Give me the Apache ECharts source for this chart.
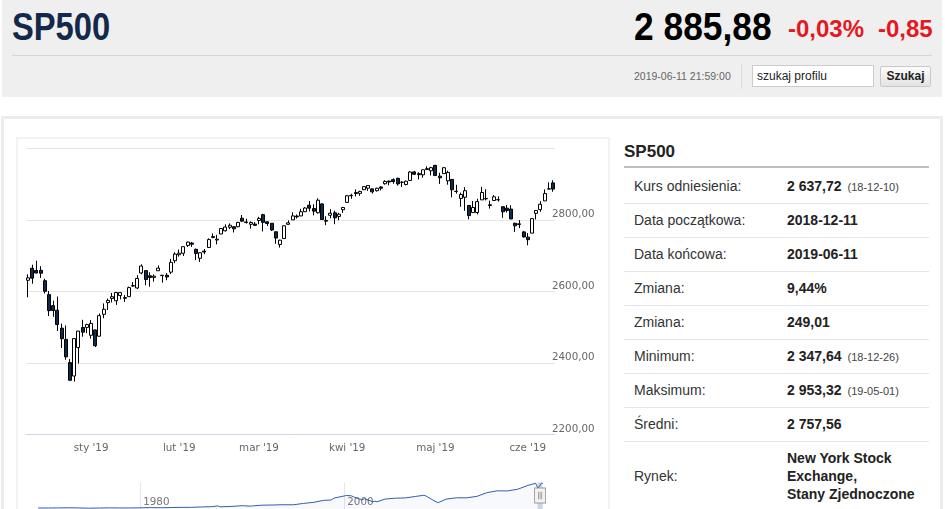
<!DOCTYPE html>
<html><head><meta charset="utf-8">
<script src="https://cdn.jsdelivr.net/npm/echarts@6/dist/echarts.min.js"></script>
<style>
html,body{margin:0;padding:0;width:945px;height:509px;overflow:hidden;background:#fff;font-family:"Liberation Sans",Arial,sans-serif;}
.a{position:absolute;white-space:nowrap;}
#hdr{left:2px;top:0;width:940px;height:97px;background:#efefef;}
.big{font-weight:bold;font-size:38px;line-height:38px;transform-origin:0 0;}
.red{font-weight:bold;font-size:24px;line-height:24px;color:#e3191f;}
.lbl{left:634px;font-size:14px;color:#333;line-height:16px;}
.val{left:787px;font-size:14px;color:#222;font-weight:bold;line-height:16px;}
.val small{font-weight:normal;font-size:11px;color:#444;margin-left:6px;}
.sep{left:624px;width:305px;height:1px;background:#e6e6e6;}
</style></head><body>
<div class="a" id="hdr"></div>
<div class="a big" style="left:12px;top:8px;color:#13294b;transform:scaleX(0.86)">SP500</div>
<div class="a big" style="left:634px;top:8px;color:#000;transform:scaleX(0.93)">2 885,88</div>
<div class="a red" style="left:788px;top:17px">-0,03%</div>
<div class="a red" style="left:878px;top:17px">-0,85</div>
<div class="a" style="left:12px;top:55px;width:920px;height:1px;background:#d6d6d6"></div>
<div class="a" style="left:634px;top:70px;font-size:10.5px;line-height:12px;color:#666">2019-06-11 21:59:00</div>
<div class="a" style="left:741px;top:64px;width:1px;height:25px;background:#dcdcdc"></div>
<div class="a" style="left:752px;top:65px;width:122px;height:22px;box-sizing:border-box;border:1px solid #ccc;background:#fff;font-size:12px;line-height:20px;padding-left:4px;color:#222">szukaj profilu</div>
<div class="a" style="left:880px;top:66px;width:51px;height:21px;box-sizing:border-box;border:1px solid #c8c8c8;border-radius:2px;background:linear-gradient(#fbfbfb,#e3e3e3);font-size:12px;font-weight:bold;line-height:19px;text-align:center;color:#222">Szukaj</div>

<div class="a" style="left:1px;top:116px;width:942px;height:420px;box-sizing:border-box;border:3px solid #ececec"></div>
<div class="a" style="left:16px;top:137px;width:594px;height:420px;box-sizing:border-box;border:2px solid #f2f2f2"></div>
<div class="a" id="chart" style="left:16px;top:138px;width:594px;height:380px"></div>

<div class="a" style="left:624px;top:143px;font-size:17px;line-height:17px;font-weight:bold;color:#222">SP500</div>
<div class="a" style="left:624px;top:166px;width:305px;height:2px;background:#bdbdbd"></div>

<div class="a lbl" style="top:178px">Kurs odniesienia:</div>
<div class="a val" style="top:178px">2 637,72<small>(18-12-10)</small></div>
<div class="a sep" style="top:203px"></div>
<div class="a lbl" style="top:212px">Data początkowa:</div>
<div class="a val" style="top:212px">2018-12-11</div>
<div class="a sep" style="top:237px"></div>
<div class="a lbl" style="top:246px">Data końcowa:</div>
<div class="a val" style="top:246px">2019-06-11</div>
<div class="a sep" style="top:271px"></div>
<div class="a lbl" style="top:280px">Zmiana:</div>
<div class="a val" style="top:280px">9,44%</div>
<div class="a sep" style="top:305px"></div>
<div class="a lbl" style="top:314px">Zmiana:</div>
<div class="a val" style="top:314px">249,01</div>
<div class="a sep" style="top:339px"></div>
<div class="a lbl" style="top:348px">Minimum:</div>
<div class="a val" style="top:348px">2 347,64<small>(18-12-26)</small></div>
<div class="a sep" style="top:373px"></div>
<div class="a lbl" style="top:382px">Maksimum:</div>
<div class="a val" style="top:382px">2 953,32<small>(19-05-01)</small></div>
<div class="a sep" style="top:407px"></div>
<div class="a lbl" style="top:416px">Średni:</div>
<div class="a val" style="top:416px">2 757,56</div>
<div class="a sep" style="top:441px"></div>
<div class="a lbl" style="top:468px">Rynek:</div>
<div class="a val" style="top:449px;line-height:18px;white-space:normal;width:140px">New York Stock<br>Exchange,<br>Stany Zjednoczone</div>

<script>
const dates = [
'2018-12-10','2018-12-11','2018-12-12','2018-12-13','2018-12-14','2018-12-17','2018-12-18','2018-12-19','2018-12-20','2018-12-21','2018-12-24','2018-12-26','2018-12-27','2018-12-28','2018-12-31',
'2019-01-02','2019-01-03','2019-01-04','2019-01-07','2019-01-08','2019-01-09','2019-01-10','2019-01-11','2019-01-14','2019-01-15','2019-01-16','2019-01-17','2019-01-18','2019-01-22','2019-01-23','2019-01-24','2019-01-25','2019-01-28','2019-01-29','2019-01-30','2019-01-31',
'2019-02-01','2019-02-04','2019-02-05','2019-02-06','2019-02-07','2019-02-08','2019-02-11','2019-02-12','2019-02-13','2019-02-14','2019-02-15','2019-02-19','2019-02-20','2019-02-21','2019-02-22','2019-02-25','2019-02-26','2019-02-27','2019-02-28',
'2019-03-01','2019-03-04','2019-03-05','2019-03-06','2019-03-07','2019-03-08','2019-03-11','2019-03-12','2019-03-13','2019-03-14','2019-03-15','2019-03-18','2019-03-19','2019-03-20','2019-03-21','2019-03-22','2019-03-25','2019-03-26','2019-03-27','2019-03-28','2019-03-29',
'2019-04-01','2019-04-02','2019-04-03','2019-04-04','2019-04-05','2019-04-08','2019-04-09','2019-04-10','2019-04-11','2019-04-12','2019-04-15','2019-04-16','2019-04-17','2019-04-18','2019-04-22','2019-04-23','2019-04-24','2019-04-25','2019-04-26','2019-04-29','2019-04-30',
'2019-05-01','2019-05-02','2019-05-03','2019-05-06','2019-05-07','2019-05-08','2019-05-09','2019-05-10','2019-05-13','2019-05-14','2019-05-15','2019-05-16','2019-05-17','2019-05-20','2019-05-21','2019-05-22','2019-05-23','2019-05-24','2019-05-28','2019-05-29','2019-05-30','2019-05-31',
'2019-06-03','2019-06-04','2019-06-05','2019-06-06','2019-06-07','2019-06-10','2019-06-11'];
const opens = [
2630.86,2664.44,2658.23,2658.70,2629.68,2590.75,2559.90,2547.05,2496.77,2465.38,2400.56,2363.12,2442.50,2498.77,2498.94,
2476.96,2491.92,2474.33,2535.61,2568.11,2580.00,2573.51,2588.11,2580.31,2585.10,2614.75,2609.28,2651.27,2657.88,2643.48,2638.84,2657.44,2644.97,2644.89,2653.62,2685.49,
2702.32,2706.49,2728.34,2735.05,2717.53,2692.36,2712.40,2722.61,2750.30,2743.50,2760.24,2769.28,2779.05,2780.67,2780.67,2804.35,2792.36,2787.50,2788.11,
2798.22,2814.37,2794.41,2790.27,2766.53,2730.79,2747.61,2787.34,2799.78,2810.38,2810.79,2822.61,2840.76,2831.34,2819.72,2844.52,2796.01,2812.66,2819.72,2809.40,2828.27,
2848.63,2868.24,2876.09,2873.99,2884.16,2888.46,2886.58,2881.37,2891.92,2900.86,2908.32,2912.26,2916.04,2904.81,2898.78,2909.99,2934.00,2928.99,2925.81,2940.58,2937.14,
2952.33,2922.16,2929.21,2908.89,2913.03,2879.61,2859.84,2863.10,2840.19,2820.12,2820.38,2855.80,2858.60,2841.94,2854.02,2856.06,2836.70,2832.41,2830.03,2790.25,2786.94,2766.15,
2751.53,2762.64,2818.09,2828.51,2852.87,2885.83,2903.27];
const highs = [
2647.51,2674.35,2685.44,2670.19,2635.07,2601.13,2573.99,2585.29,2509.63,2504.41,2410.34,2467.76,2489.10,2520.27,2509.24,
2519.49,2493.14,2538.07,2566.16,2579.82,2595.32,2597.82,2596.27,2589.32,2613.08,2625.76,2645.06,2675.47,2657.88,2653.19,2647.20,2672.38,2644.97,2650.93,2690.44,2708.95,
2716.66,2724.99,2738.98,2738.08,2719.32,2708.07,2718.05,2748.19,2761.85,2757.90,2775.66,2787.33,2789.88,2781.58,2794.20,2813.49,2803.12,2795.76,2793.73,
2808.02,2816.88,2796.44,2790.27,2766.53,2744.13,2784.00,2798.32,2821.24,2815.00,2830.73,2835.41,2852.42,2843.54,2860.31,2846.16,2809.79,2829.87,2825.56,2819.71,2836.03,
2869.40,2872.90,2885.25,2881.28,2893.24,2895.95,2886.88,2889.71,2893.42,2910.54,2909.60,2916.06,2918.00,2908.40,2909.51,2936.31,2936.83,2933.10,2939.88,2949.52,2948.22,
2953.32,2931.68,2947.85,2937.32,2913.03,2897.96,2875.97,2891.31,2840.19,2852.54,2858.68,2892.15,2885.48,2853.86,2868.88,2865.47,2836.70,2841.36,2840.51,2792.03,2799.00,2768.98,
2763.07,2804.49,2827.28,2852.10,2884.97,2904.77,2910.61];
const lows = [
2583.23,2621.30,2650.26,2637.27,2593.84,2530.54,2528.71,2488.96,2441.18,2408.55,2351.10,2347.64,2397.94,2472.89,2482.82,
2467.47,2443.96,2474.33,2524.56,2547.56,2568.89,2562.02,2577.40,2570.41,2585.10,2612.68,2606.36,2647.58,2617.27,2612.86,2627.01,2657.33,2624.06,2631.05,2648.34,2678.65,
2696.88,2698.75,2724.03,2724.15,2687.26,2681.83,2703.79,2722.61,2748.63,2731.23,2760.24,2767.29,2774.06,2764.55,2779.11,2794.99,2789.47,2775.13,2782.51,
2787.38,2767.66,2782.97,2768.69,2732.86,2722.27,2747.61,2786.73,2799.78,2803.46,2810.79,2821.99,2823.27,2812.43,2817.38,2800.47,2785.02,2803.99,2787.72,2798.77,2819.23,
2848.63,2858.75,2865.17,2867.14,2882.99,2880.78,2873.33,2879.13,2881.99,2898.37,2896.48,2900.71,2895.45,2891.90,2896.35,2908.53,2926.05,2912.84,2917.56,2939.35,2924.11,
2923.36,2900.50,2929.21,2898.21,2862.60,2873.28,2836.40,2825.39,2801.43,2820.12,2815.08,2855.80,2854.23,2831.29,2854.02,2851.11,2805.49,2820.19,2801.58,2766.06,2776.74,2750.52,
2728.81,2762.64,2800.92,2822.45,2852.87,2885.51,2878.53];
const closes = [
2637.72,2636.78,2651.07,2650.54,2599.95,2545.94,2546.16,2506.96,2467.42,2416.62,2351.10,2467.70,2488.83,2485.74,2506.85,
2510.03,2447.89,2531.94,2549.69,2574.41,2584.96,2596.64,2596.26,2582.61,2610.30,2616.10,2635.96,2670.71,2632.90,2638.70,2642.33,2664.76,2643.85,2640.00,2681.05,2704.10,
2706.53,2724.87,2737.70,2731.61,2706.05,2707.88,2709.80,2744.73,2753.03,2745.73,2775.60,2779.76,2784.70,2774.88,2792.67,2796.11,2793.90,2792.38,2784.49,
2803.69,2792.81,2789.65,2771.45,2748.93,2743.07,2783.30,2791.52,2810.92,2808.48,2822.48,2832.94,2832.57,2824.23,2854.88,2800.71,2798.36,2818.46,2805.37,2815.44,2834.40,
2867.19,2867.24,2873.40,2879.39,2892.74,2895.77,2878.20,2888.21,2888.32,2907.41,2905.58,2907.06,2900.45,2905.03,2907.97,2933.68,2927.25,2926.17,2939.88,2943.03,2945.83,
2923.73,2917.52,2945.64,2932.47,2884.05,2879.42,2870.72,2881.40,2811.87,2834.41,2850.96,2876.32,2859.53,2840.23,2864.36,2856.27,2822.24,2826.06,2802.39,2783.02,2788.86,2752.06,
2744.45,2803.27,2826.15,2843.49,2873.34,2886.73,2885.88];
const monthNames = ['sty','lut','mar','kwi','maj','cze','lip','sie','wrz','paź','lis','gru'];
const yMin = 2200, yMax = 3000, yStep = 200;

const navYears = [1970,1971,1972,1973,1974,1975,1976,1977,1978,1979,1980,1981,1982,1983,1984,1985,1986,1987,1987.6,1987.85,1988,1989,1990,1990.8,1991,1992,1993,1994,1995,1996,1997,1998,1998.7,1999,2000,2000.2,2000.7,2001,2001.7,2002,2002.8,2003,2003.2,2004,2005,2006,2007,2007.8,2008,2008.9,2009,2009.2,2010,2011,2012,2013,2014,2015,2016,2017,2018,2018.05,2018.75,2018.98,2019,2019.33,2019.44];
const navValues = [92,92,102,119,97,69,90,107,95,96,108,136,122,141,165,167,211,242,330,230,247,278,353,305,330,417,436,466,459,616,741,970,1000,1229,1469,1527,1480,1320,1040,1148,800,880,800,1112,1212,1248,1418,1549,1468,850,903,700,1115,1258,1258,1426,1848,2059,2044,2239,2674,2850,2930,2351,2507,2945,2886];
const navTicks = [1980, 2000];
const navRange = [2018.94, 2019.44];

const isMonthStart = dates.map((d, i) => i > 0 && d.slice(5, 7) !== dates[i - 1].slice(5, 7));
const fmtNum = v => v.toFixed(2).replace('.', ',');
const lblFont = {fontFamily: 'DejaVu Sans', fontSize: 10.3, color: '#666'};

const chart = echarts.init(document.getElementById('chart'));
chart.setOption({
  animation: false,
  grid: [
    {left: 10, top: 10.3, width: 529, height: 286},
    {left: 10, top: 344.3, width: 530, height: 30}
  ],
  xAxis: [
    {
      type: 'category', gridIndex: 0, data: dates, boundaryGap: true,
      axisLine: {lineStyle: {color: '#ccd6eb'}},
      axisTick: {alignWithLabel: true, length: 6, interval: i => isMonthStart[i], lineStyle: {color: '#ccd6eb'}},
      axisLabel: Object.assign({interval: i => isMonthStart[i], margin: 9,
        formatter: v => monthNames[+v.slice(5, 7) - 1] + " '" + v.slice(2, 4)}, lblFont),
      splitLine: {show: false}
    },
    {
      type: 'value', gridIndex: 1, min: 1968.8, max: 2020.75, position: 'top',
      axisLine: {show: true, lineStyle: {color: '#b5b5b5'}},
      axisTick: {show: false, customValues: navTicks},
      splitLine: {show: true, lineStyle: {color: '#e6e6e6'}},
      axisLabel: Object.assign({inside: true, customValues: navTicks, align: 'left', margin: 15, padding: [0, 0, 0, 3],
        formatter: v => String(v)}, lblFont, {color: '#777'})
    }
  ],
  yAxis: [
    {
      type: 'value', gridIndex: 0, position: 'right', min: yMin, max: yMax, interval: yStep,
      axisLine: {show: false}, axisTick: {show: false},
      splitLine: {lineStyle: {color: '#e6e6e6'}},
      axisLabel: Object.assign({showMaxLabel: false, margin: -3, verticalAlign: 'bottom', formatter: v => fmtNum(v)}, lblFont)
    },
    {type: 'value', gridIndex: 1, min: -400, max: 3030, show: false}
  ],
  series: [
    {
      type: 'candlestick', xAxisIndex: 0, yAxisIndex: 0, barWidth: 3.5,
      data: dates.map((d, i) => [opens[i], closes[i], lows[i], highs[i]]),
      itemStyle: {color: '#ffffff', color0: '#0d2a4f', borderColor: '#000', borderColor0: '#000', borderWidth: 1}
    },
    {
      type: 'line', xAxisIndex: 1, yAxisIndex: 1, showSymbol: false, silent: true,
      data: navYears.map((y, i) => [y, navValues[i]]),
      lineStyle: {color: '#335cad', width: 1},
      areaStyle: {color: 'rgba(51,92,173,0.05)'},
      markArea: {silent: true, itemStyle: {color: 'rgba(102,133,194,0.3)'},
        data: [[{xAxis: navRange[0]}, {xAxis: navRange[1]}]]},
      markPoint: {silent: true, symbol: 'path://M0.5,0.5 L10.5,0.5 L10.5,14.5 L0.5,14.5 Z M4,4 L4,11 M5.5,4 L5.5,11 M7,4 L7,11',
        symbolSize: [11, 15], label: {show: false},
        itemStyle: {color: '#f2f2f2', borderColor: '#999', borderWidth: 1},
        data: [{coord: [(navRange[0] + navRange[1]) / 2, 1520]}]}
    }
  ]
});
</script>
</body></html>
